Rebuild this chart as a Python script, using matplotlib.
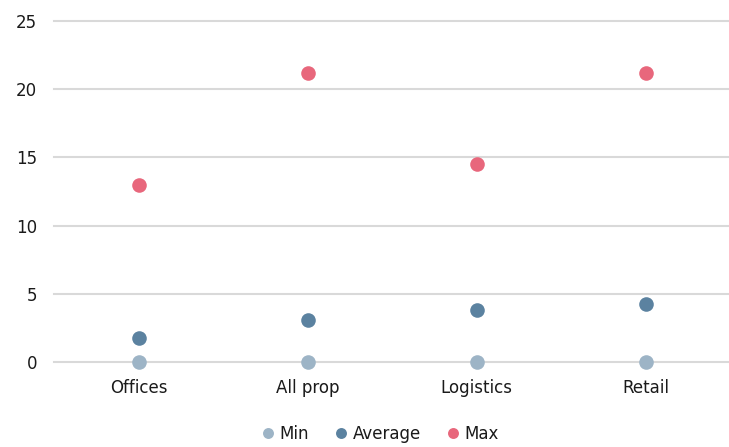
import numpy as np
import matplotlib.pyplot as plt

# data
categories = ['Offices', 'All prop', 'Logistics', 'Retail']
min_vals = [0.0, 0.0, 0.0, 0.0]
avg_vals = [1.75, 3.1, 3.8, 4.25]
max_vals = [13.0, 21.2, 14.5, 21.2]

plt.rcParams['font.family'] = ['DejaVu Sans']

fig = plt.figure(figsize=(7.29, 4.47), dpi=100)
ax = fig.add_axes([54 / 729, 1 - 362 / 447, 676 / 729, 341 / 447])

x = np.arange(len(categories))
series = [('Min', min_vals, '#9db4c6'),
          ('Average', avg_vals, '#5b82a0'),
          ('Max', max_vals, '#e8677c')]
for name, vals, col in series:
    ax.plot(x, vals, 'o', color=col, markersize=10.5, label=name,
            clip_on=False, zorder=3, markeredgewidth=0)

ax.set_xlim(-0.5, 3.5)
ax.set_ylim(0, 25)
ax.set_yticks(np.arange(0, 26, 5))
ax.set_xticks(x)
ax.set_xticklabels(categories)
ax.grid(axis='y', color='#d9d9d9', linewidth=1.5)
for gl in ax.get_ygridlines():
    gl.set_clip_on(False)
ax.set_axisbelow(True)
for s in ax.spines.values():
    s.set_visible(False)
ax.tick_params(length=0, labelsize=12, colors='#1a1a1a')
ax.tick_params(axis='y', pad=12)
ax.tick_params(axis='x', pad=12)

ax.legend(loc='center', bbox_to_anchor=(0.5 - 0.025, -0.21), ncol=3, frameon=False,
          fontsize=12, handletextpad=-0.3, columnspacing=0.9, markerscale=0.75,
          labelcolor='#1a1a1a')

fig.savefig('out.png', dpi=100)
